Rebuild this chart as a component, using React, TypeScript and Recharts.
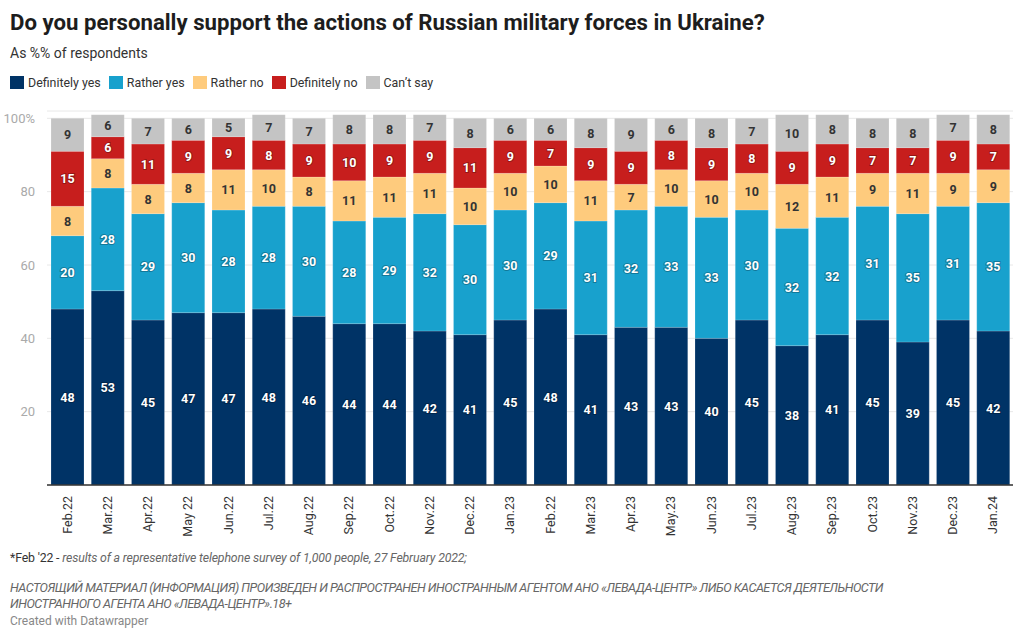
import React from "react"
import { Bar, BarChart, CartesianGrid, LabelList, XAxis, YAxis } from "recharts"

const months = [
  "Feb.22", "Mar.22", "Apr.22", "May 22", "Jun.22", "Jul.22", "Aug.22", "Sep.22",
  "Oct.22", "Nov.22", "Dec.22", "Jan.23", "Feb.22", "Mar.23", "Apr.23", "May.23",
  "Jun.23", "Jul.23", "Aug.23", "Sep.23", "Oct.23", "Nov.23", "Dec.23", "Jan.24",
]

const definitelyYes = [48, 53, 45, 47, 47, 48, 46, 44, 44, 42, 41, 45, 48, 41, 43, 43, 40, 45, 38, 41, 45, 39, 45, 42]
const ratherYes = [20, 28, 29, 30, 28, 28, 30, 28, 29, 32, 30, 30, 29, 31, 32, 33, 33, 30, 32, 32, 31, 35, 31, 35]
const ratherNo = [8, 8, 8, 8, 11, 10, 8, 11, 11, 11, 10, 10, 10, 11, 7, 10, 10, 10, 12, 11, 9, 11, 9, 9]
const definitelyNo = [15, 6, 11, 9, 9, 8, 9, 10, 9, 9, 11, 9, 7, 9, 9, 8, 9, 8, 9, 9, 7, 7, 9, 7]
const cantSay = [9, 6, 7, 6, 5, 7, 7, 8, 8, 7, 8, 6, 6, 8, 9, 6, 8, 7, 10, 8, 8, 8, 7, 8]

const yTicks = [0, 20, 40, 60, 80, 100]

const data = months.map((month, i) => ({
  month,
  dy: definitelyYes[i],
  ry: ratherYes[i],
  rn: ratherNo[i],
  dn: definitelyNo[i],
  cs: cantSay[i],
}))

const series = [
  { key: "dy", name: "Definitely yes", color: "#003366", label: "#fff" },
  { key: "ry", name: "Rather yes", color: "#18a1cd", label: "#fff" },
  { key: "rn", name: "Rather no", color: "#fecb7d", label: "#333" },
  { key: "dn", name: "Definitely no", color: "#c71e1d", label: "#fff" },
  { key: "cs", name: "Can\u2019t say", color: "#c4c4c4", label: "#333" },
]

const font = "Roboto, 'Noto Sans', sans-serif"

function MonthTick(props: any) {
  const { x, y, payload } = props
  return (
    <g transform={`translate(${x},${y})`}>
      <text
        transform="rotate(-90)"
        x={-1}
        y={0}
        dy={4.5}
        textAnchor="end"
        fontSize={12.5}
        fill="#333"
        fontFamily={font}
      >
        {payload.value}
      </text>
    </g>
  )
}

function makeLabel(fill: string) {
  const white = fill === "#fff"
  return (props: any) => {
    const { x, y, width, height, value } = props
    return (
      <text
        x={x + width / 2}
        y={y + height / 2}
        dy={4.5}
        textAnchor="middle"
        fontSize={12.5}
        fontWeight={700}
        fontFamily={font}
        fill={fill}
        stroke={white ? "rgba(0,0,0,0.25)" : "none"}
        strokeWidth={white ? 2 : 0}
        paintOrder="stroke"
      >
        {value}
      </text>
    )
  }
}

export default function App() {
  return (
    <div
      style={{
        position: "absolute",
        left: 0,
        top: 0,
        width: 1024,
        height: 639,
        background: "#fff",
        fontFamily: font,
        color: "#333",
        overflow: "hidden",
      }}
    >
      <div style={{ position: "absolute", left: 10, top: 9, fontSize: 22.2, fontWeight: 700, color: "#1d1d1d", whiteSpace: "nowrap" }}>
        Do you personally support the actions of Russian military forces in Ukraine?
      </div>
      <div style={{ position: "absolute", left: 10, top: 45, fontSize: 14, color: "#333" }}>As %% of respondents</div>
      <div style={{ position: "absolute", left: 10, top: 75, display: "flex", gap: 8, fontSize: 12.4, color: "#333" }}>
        {series.map((s) => (
          <div key={s.key} style={{ display: "flex", alignItems: "center", gap: 4 }}>
            <span style={{ width: 14, height: 13, background: s.color, display: "inline-block" }} />
            <span>{s.name}</span>
          </div>
        ))}
      </div>

      <div style={{ position: "absolute", left: 0, top: 100 }}>
        <BarChart
          width={1024}
          height={445}
          data={data}
          margin={{ top: 11, right: 11, left: 0, bottom: 0 }}
          barSize={33}
        >
          <CartesianGrid vertical={false} stroke="#e8e8e8" />
          <YAxis
            domain={[0, 102]}
            ticks={yTicks}
            width={47}
            axisLine={false}
            tickLine={false}
            tick={{ fill: "#aaa", fontSize: 13, fontFamily: font }}
            tickFormatter={(v) => (v === 100 ? "100%" : v === 0 ? "" : `${v}`)}
            tickMargin={6}
          />
          <XAxis
            dataKey="month"
            height={60}
            interval={0}
            tickLine={false}
            axisLine={{ stroke: "#333", strokeWidth: 1.5 }}
            tick={<MonthTick />}
            tickMargin={4}
          />
          {series.map((s) => (
            <Bar
              key={s.key}
              dataKey={s.key}
              name={s.name}
              stackId="a"
              fill={s.color}
              stroke="rgba(255,255,255,0.35)"
              strokeWidth={0.5}
              isAnimationActive={false}
            >
              <LabelList dataKey={s.key} content={makeLabel(s.label)} />
            </Bar>
          ))}
        </BarChart>
      </div>

      <div style={{ position: "absolute", left: 10, top: 551, fontSize: 12.3, letterSpacing: -0.15, color: "#333", whiteSpace: "nowrap" }}>
        *Feb '22 - <i style={{ color: "#666" }}>results of a representative telephone survey of 1,000 people, 27 February 2022;</i>
      </div>
      <div
        style={{
          position: "absolute",
          left: 10,
          top: 580,
          fontSize: 12.6,
          lineHeight: "16px",
          letterSpacing: -0.5,
          color: "#666",
          fontStyle: "italic",
          whiteSpace: "nowrap",
        }}
      >
        НАСТОЯЩИЙ МАТЕРИАЛ (ИНФОРМАЦИЯ) ПРОИЗВЕДЕН И РАСПРОСТРАНЕН ИНОСТРАННЫМ АГЕНТОМ АНО «ЛЕВАДА-ЦЕНТР» ЛИБО КАСАЕТСЯ ДЕЯТЕЛЬНОСТИ
        <br />
        ИНОСТРАННОГО АГЕНТА АНО «ЛЕВАДА-ЦЕНТР».18+
      </div>
      <div style={{ position: "absolute", left: 10, top: 614, fontSize: 12, color: "#888" }}>Created with Datawrapper</div>
    </div>
  )
}
